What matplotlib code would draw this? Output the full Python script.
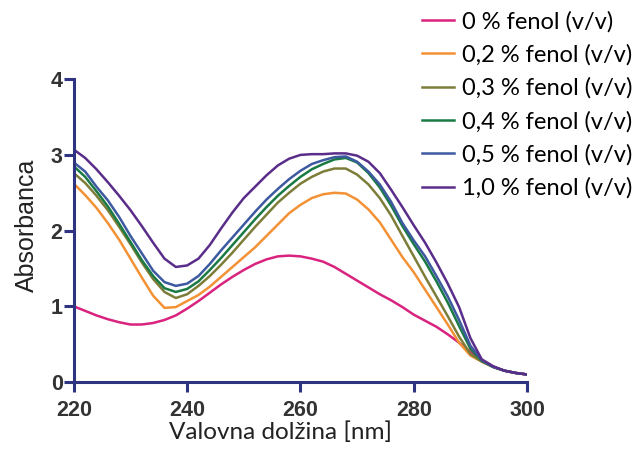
import matplotlib
matplotlib.use("Agg")
import matplotlib.pyplot as plt

wavelength = list(range(220, 301, 2))

phenol_0 = [1.00, 0.94, 0.88, 0.83, 0.79, 0.76, 0.76, 0.78, 0.82, 0.88,
            0.97, 1.07, 1.18, 1.29, 1.39, 1.48, 1.56, 1.62, 1.66, 1.67,
            1.66, 1.63, 1.59, 1.52, 1.43, 1.34, 1.25, 1.16, 1.08, 0.99,
            0.89, 0.81, 0.73, 0.63, 0.52, 0.40, 0.28, 0.20, 0.15, 0.12, 0.10]
phenol_02 = [2.62, 2.47, 2.30, 2.10, 1.88, 1.63, 1.38, 1.14, 0.98, 0.99,
             1.07, 1.15, 1.26, 1.39, 1.52, 1.65, 1.78, 1.93, 2.08, 2.23,
             2.34, 2.43, 2.48, 2.50, 2.49, 2.41, 2.28, 2.11, 1.88, 1.65,
             1.45, 1.22, 0.99, 0.76, 0.52, 0.35, 0.27, 0.20, 0.15, 0.12, 0.10]
phenol_03 = [2.76, 2.63, 2.46, 2.27, 2.05, 1.82, 1.58, 1.36, 1.19, 1.11,
             1.16, 1.27, 1.40, 1.55, 1.71, 1.88, 2.05, 2.21, 2.37, 2.50,
             2.62, 2.71, 2.78, 2.82, 2.82, 2.74, 2.61, 2.43, 2.20, 1.93,
             1.66, 1.39, 1.13, 0.87, 0.60, 0.37, 0.27, 0.20, 0.15, 0.12, 0.10]
phenol_04 = [2.85, 2.71, 2.52, 2.32, 2.09, 1.85, 1.61, 1.40, 1.24, 1.19,
             1.23, 1.33, 1.48, 1.64, 1.81, 1.98, 2.15, 2.31, 2.46, 2.59,
             2.71, 2.81, 2.88, 2.94, 2.96, 2.90, 2.76, 2.57, 2.33, 2.06,
             1.82, 1.59, 1.33, 1.05, 0.74, 0.44, 0.28, 0.20, 0.15, 0.12, 0.10]
phenol_05 = [2.90, 2.78, 2.58, 2.40, 2.18, 1.93, 1.70, 1.47, 1.32, 1.27,
             1.30, 1.40, 1.56, 1.74, 1.91, 2.08, 2.25, 2.41, 2.55, 2.68,
             2.79, 2.88, 2.93, 2.97, 2.98, 2.91, 2.78, 2.61, 2.38, 2.10,
             1.87, 1.66, 1.40, 1.13, 0.82, 0.48, 0.29, 0.20, 0.15, 0.12, 0.10]
phenol_10 = [3.07, 2.96, 2.81, 2.64, 2.46, 2.27, 2.06, 1.84, 1.63, 1.52,
             1.54, 1.63, 1.81, 2.03, 2.24, 2.43, 2.58, 2.73, 2.86, 2.95,
             3.00, 3.01, 3.01, 3.02, 3.02, 2.99, 2.91, 2.76, 2.54, 2.31,
             2.07, 1.84, 1.58, 1.30, 0.99, 0.58, 0.30, 0.21, 0.15, 0.12, 0.10]

labels = ["0 % fenol (v/v)", "0,2 % fenol (v/v)", "0,3 % fenol (v/v)",
          "0,4 % fenol (v/v)", "0,5 % fenol (v/v)", "1,0 % fenol (v/v)"]
colors = ["#d9237e", "#f39135", "#7d7d3a", "#1a7a44", "#3d5aa0", "#5a2d8a"]

AXIS_COLOR = "#2e3480"


def main() -> None:
    fig = plt.figure(figsize=(6.42, 4.5), dpi=100)
    ax = fig.add_axes([0.115, 0.151, 0.706, 0.673])

    series = [phenol_0, phenol_02, phenol_03, phenol_04, phenol_05, phenol_10]
    for values, label, color in zip(series, labels, colors):
        ax.plot(wavelength, values, color=color, lw=1.8, label=label)

    ax.set_xlim(220, 300)
    ax.set_ylim(0, 4)
    ax.set_xticks([220, 240, 260, 280, 300])
    ax.set_yticks([0, 1, 2, 3, 4])

    for side in ("top", "right"):
        ax.spines[side].set_visible(False)
    for side in ("left", "bottom"):
        ax.spines[side].set_color(AXIS_COLOR)
        ax.spines[side].set_linewidth(2.2)

    ax.tick_params(axis="both", direction="out", length=7, width=2.2,
                   color=AXIS_COLOR, labelcolor="#333333")
    ax.tick_params(axis="x", pad=6)
    ax.tick_params(axis="y", pad=1)
    for lbl in ax.get_xticklabels() + ax.get_yticklabels():
        lbl.set_fontfamily("Liberation Sans")
        lbl.set_fontweight("bold")
        lbl.set_fontsize(15.5)

    ax.set_xlabel("Valovna dolžina [nm]", fontsize=17.5, family="Lato",
                  color="#222222")
    ax.xaxis.set_label_coords(0.457, -0.13)
    ax.set_ylabel("Absorbanca", fontsize=18, family="Liberation Sans",
                  color="#222222")
    ax.yaxis.set_label_coords(-0.078, 0.518)

    fig.legend(loc="upper left", bbox_to_anchor=(0.6425, 0.997), frameon=False,
               prop={"family": "Lato", "size": 17}, handlelength=1.35,
               handletextpad=0.33, labelspacing=0.5, borderaxespad=0)

    fig.savefig("out.png", dpi=100)


if __name__ == "__main__":
    main()
